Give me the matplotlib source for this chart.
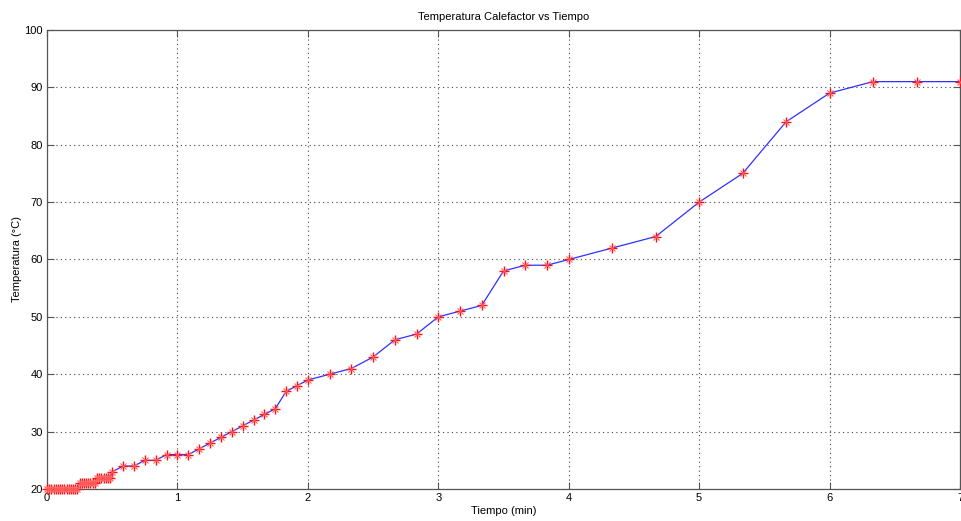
import numpy as np
import matplotlib
matplotlib.use("Agg")
from matplotlib import pyplot as plt

# tiempos de muestreo en segundos
seg_rapido = list(range(0, 31))          # cada 1 s los primeros 30 s
seg_medio = list(range(35, 121, 5))      # cada 5 s hasta 2 min
seg_lento = list(range(130, 241, 10))    # cada 10 s hasta 4 min
seg_final = list(range(260, 421, 20))    # cada 20 s hasta 7 min

temp_rapido = [20] * 15 + [21] * 8 + [22] * 7 + [23]
temp_medio = [24, 24, 25, 25, 26, 26, 26, 27, 28, 29, 30, 31, 32, 33, 34, 37, 38, 39]
temp_lento = [40, 41, 43, 46, 47, 50, 51, 52, 58, 59, 59, 60]
temp_final = [62, 64, 70, 75, 84, 89, 91, 91, 91]

tiempo = np.array(seg_rapido + seg_medio + seg_lento + seg_final) / 60.0
temperatura = np.array(temp_rapido + temp_medio + temp_lento + temp_final)

plt.rcParams['font.family'] = ['Liberation Sans', 'DejaVu Sans']
plt.rcParams['font.size'] = 8

fig = plt.figure(figsize=(9.61, 5.21), dpi=100)
W, H = 961.0, 521.0
ax = fig.add_axes([47 / W, (H - 489) / H, (960 - 47) / W, (489 - 30) / H])

ax.plot(tiempo, temperatura, '-', color='#3030ff', lw=0.9, zorder=3)
# asterisco al estilo matlab: cruz + aspa
ax.plot(tiempo, temperatura, linestyle='none', marker='+', markersize=7,
        markeredgecolor='#ff1010', markeredgewidth=1.0, zorder=4, clip_on=False)
ax.plot(tiempo, temperatura, linestyle='none', marker='x', markersize=5,
        markeredgecolor='#ff6060', markeredgewidth=0.8, zorder=4, clip_on=False)

ax.set_xlim(0, 7)
ax.set_ylim(20, 100)
ax.set_xticks(range(0, 8))
ax.set_yticks(range(20, 101, 10))

ax.grid(True, color='#444444', linestyle=(0, (1, 3)), linewidth=0.8)
ax.tick_params(direction='in', length=5, color='#555555', labelsize=8, pad=3,
               top=True, right=True)
for s in ax.spines.values():
    s.set_color('#555555')
    s.set_linewidth(0.9)

ax.set_title('Temperatura Calefactor vs Tiempo', fontsize=8, pad=7)
ax.set_xlabel('Tiempo (min)', fontsize=8, labelpad=2)
ax.set_ylabel('Temperatura (°C)', fontsize=8, labelpad=2)

fig.savefig('out.png', dpi=100)
